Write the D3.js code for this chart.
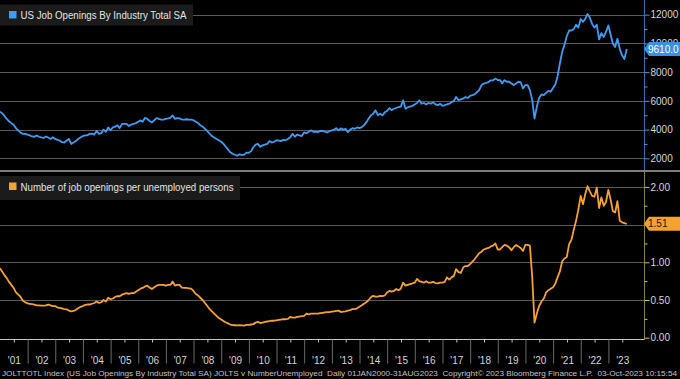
<!DOCTYPE html>
<html><head><meta charset="utf-8">
<script src="https://cdn.jsdelivr.net/npm/d3@7"></script>
<style>
html,body{margin:0;padding:0;background:#000;}
svg{display:block;}
text{font-family:"Liberation Sans",Arial,sans-serif;}
</style></head><body>
<svg id="chart" width="680" height="379"></svg>
<script>
// ---- Data (monthly, Dec 2000 .. Aug 2023) ----
const firstMonth = [2000, 11]; // Dec 2000
const openings = [
 5250,
 5130,4950,4740,4580,4450,4330,4100,3930,3790,3700,3700,3650,
 3590,3520,3500,3590,3500,3450,3420,3520,3450,3350,3470,3350,
 3280,3240,3120,3100,3240,3350,3000,3100,3200,3350,3450,3550,
 3600,3600,3700,3720,3650,3900,3700,3750,4000,3850,4150,3950,
 4150,4200,4300,4100,4400,4400,4400,4250,4350,4400,4450,4550,
 4640,4550,4820,4750,4600,4500,4650,4800,4750,4700,4700,4750,
 4780,4820,4980,4750,4800,4780,4700,4700,4720,4700,4700,4650,
 4550,4450,4300,4200,4050,3900,3720,3550,3450,3350,3260,3150,
 3000,2820,2620,2420,2320,2250,2180,2280,2230,2260,2400,2380,
 2500,2770,2950,3000,2800,2900,2950,3000,3200,3100,3150,3250,
 3240,3200,3280,3250,3350,3470,3700,3500,3650,3600,3550,3800,
 3750,3850,3950,3850,3850,3820,3900,3900,3850,3800,3900,3950,
 4000,4100,3950,4080,4000,4050,3820,4000,4100,4050,4150,4100,
 4170,4290,4500,4750,4990,5100,5340,5000,5100,4990,5200,5300,
 5500,5350,5450,5500,5570,5600,6040,5450,5550,5600,5650,5750,
 5850,6040,5800,5850,5750,5850,5800,5900,5750,5700,5800,5650,
 5700,5750,5800,5900,6000,6270,6050,6100,6150,6270,6200,6350,
 6400,6450,6600,6750,7100,7200,7250,7310,7430,7430,7550,7450,
 7445,7215,7445,7330,7330,7215,7100,7215,7330,7300,6865,7100,
 7100,6750,6050,4770,5600,6200,6450,6400,6550,6700,6650,6900,
 7150,7700,8600,9400,9900,10500,10900,10900,11000,11300,11100,11700,
 11500,11700,12050,11800,11350,11100,11300,10280,10720,10450,10800,11250,
 10600,10000,9750,10320,9620,9170,8920,9610
];
const ratio = [
 0.92,
 0.875,0.83,0.79,0.74,0.70,0.66,0.60,0.57,0.54,0.49,0.47,0.455,
 0.45,0.445,0.44,0.43,0.43,0.425,0.425,0.43,0.44,0.43,0.42,0.42,
 0.40,0.395,0.39,0.38,0.375,0.36,0.35,0.355,0.37,0.39,0.41,0.42,
 0.435,0.44,0.44,0.45,0.46,0.48,0.46,0.47,0.50,0.48,0.53,0.51,
 0.52,0.54,0.55,0.55,0.57,0.58,0.59,0.58,0.59,0.59,0.61,0.63,
 0.65,0.66,0.68,0.69,0.665,0.645,0.67,0.69,0.70,0.70,0.70,0.69,
 0.70,0.70,0.745,0.69,0.70,0.70,0.665,0.66,0.66,0.655,0.65,0.62,
 0.58,0.56,0.53,0.50,0.46,0.42,0.38,0.35,0.32,0.29,0.26,0.24,
 0.22,0.205,0.19,0.175,0.167,0.165,0.163,0.165,0.163,0.16,0.17,0.17,
 0.175,0.18,0.20,0.21,0.195,0.20,0.21,0.215,0.22,0.225,0.225,0.23,
 0.235,0.24,0.245,0.245,0.25,0.275,0.265,0.265,0.275,0.28,0.285,0.29,
 0.32,0.31,0.32,0.32,0.32,0.32,0.325,0.33,0.335,0.34,0.34,0.345,
 0.35,0.355,0.36,0.34,0.345,0.35,0.36,0.365,0.38,0.38,0.39,0.41,
 0.43,0.45,0.47,0.50,0.535,0.555,0.545,0.545,0.555,0.55,0.56,0.60,
 0.62,0.61,0.62,0.645,0.63,0.65,0.73,0.69,0.70,0.71,0.72,0.73,
 0.78,0.75,0.74,0.73,0.75,0.73,0.73,0.74,0.725,0.72,0.73,0.73,
 0.74,0.80,0.77,0.80,0.82,0.91,0.87,0.86,0.93,0.95,0.95,0.975,
 1.01,1.04,1.08,1.12,1.14,1.17,1.18,1.19,1.21,1.22,1.25,1.17,
 1.17,1.20,1.23,1.22,1.20,1.16,1.20,1.23,1.21,1.19,1.15,1.23,
 1.23,1.22,0.80,0.20,0.32,0.42,0.48,0.52,0.60,0.63,0.65,0.67,
 0.72,0.80,0.88,1.01,1.05,1.07,1.24,1.30,1.43,1.55,1.70,1.88,
 1.77,1.90,2.01,1.94,1.88,1.87,1.99,1.72,1.86,1.75,1.80,1.96,
 1.83,1.68,1.66,1.81,1.55,1.53,1.52,1.51
];
const topTicks = [2000,4000,6000,8000,10000,12000];
const topMinor = [3000,5000,7000,9000,11000];
const botTicks = [0,0.5,1,1.5,2];
const botMinor = [0.25,0.75,1.25,1.75];
const yearLabels = ["'01","'02","'03","'04","'05","'06","'07","'08","'09","'10","'11","'12","'13","'14","'15","'16","'17","'18","'19","'20","'21","'22","'23"];
const topLegend = "US Job Openings By Industry Total SA";
const botLegend = "Number of job openings per unemployed persons";
const lastOpen = "9610.0", lastRatio = "1.51";
const footer = "JOLTTOTL Index (US Job Openings By Industry Total SA) JOLTS v NumberUnemployed  Daily 01JAN2000-31AUG2023  Copyright\u00A9 2023 Bloomberg Finance L.P.  03-Oct-2023 10:15:54";

// ---- Layout ----
const svg = d3.select("#chart");
const R = 644;
const BLUE = "#3f9cf5", ORANGE = "#f7a130";
const domainStart = new Date(2001,0,1), domainEnd = new Date(2024,3,15);
const x = d3.scaleTime().domain([domainStart, domainEnd]).range([0, R]);
const yTop = d3.scaleLinear().domain([2000,12000]).range([158.3,14.7]);
const yBot = d3.scaleLinear().domain([0,2]).range([337.7,186.9]);
const dates = openings.map((_,i)=> new Date(firstMonth[0], firstMonth[1] + i + 1, 0));

svg.append("rect").attr("width",680).attr("height",379).attr("fill","#000");

const defs = svg.append("defs");
defs.append("clipPath").attr("id","cTop").append("rect").attr("x",0).attr("y",0).attr("width",R).attr("height",170);
defs.append("clipPath").attr("id","cBot").append("rect").attr("x",0).attr("y",172).attr("width",R).attr("height",167);

// gridlines
svg.append("g").selectAll("line").data(topTicks).join("line")
  .attr("x1",0).attr("x2",R).attr("y1",d=>Math.round(yTop(d))+0.5).attr("y2",d=>Math.round(yTop(d))+0.5)
  .attr("stroke","#5a5a5a").attr("stroke-width",1);
svg.append("g").selectAll("line").data(botTicks.filter(d=>d>0)).join("line")
  .attr("x1",0).attr("x2",R).attr("y1",d=>Math.round(yBot(d))+0.5).attr("y2",d=>Math.round(yBot(d))+0.5)
  .attr("stroke","#5a5a5a").attr("stroke-width",1);

// panel separator
svg.append("rect").attr("x",0).attr("y",170).attr("width",680).attr("height",2).attr("fill","#7c7c7c");

// lines
const lineTop = d3.line().x((d,i)=>x(dates[i])).y(d=>yTop(d));
const lineBot = d3.line().x((d,i)=>x(dates[i])).y(d=>yBot(d));
svg.append("path").datum(openings).attr("clip-path","url(#cTop)").attr("d",lineTop)
  .attr("fill","none").attr("stroke",BLUE).attr("stroke-width",1.8).attr("stroke-linejoin","round");
svg.append("path").datum(ratio).attr("clip-path","url(#cBot)").attr("d",lineBot)
  .attr("fill","none").attr("stroke",ORANGE).attr("stroke-width",1.8).attr("stroke-linejoin","round");

// right axes
svg.append("line").attr("x1",R+0.5).attr("x2",R+0.5).attr("y1",0).attr("y2",170).attr("stroke","#3570b5").attr("stroke-width",1);
svg.append("line").attr("x1",R+0.5).attr("x2",R+0.5).attr("y1",172).attr("y2",340).attr("stroke","#8a8238").attr("stroke-width",1);

function styleAxis(g, col){
  g.select(".domain").remove();
  g.selectAll(".tick line").attr("stroke",col).attr("stroke-width",1);
  g.selectAll(".tick text").attr("fill","#d6d6d6").style("font-size","10px").style("font-family","'Liberation Sans',Arial,sans-serif");
}
const gTop = svg.append("g").attr("transform",`translate(${R+0.5},0)`)
  .call(d3.axisRight(yTop).tickValues(topTicks).tickSize(5).tickPadding(1).tickFormat(d3.format("d")));
styleAxis(gTop, BLUE);
const gTopM = svg.append("g").attr("transform",`translate(${R+0.5},0)`)
  .call(d3.axisRight(yTop).tickValues(topMinor).tickSize(3).tickFormat(""));
styleAxis(gTopM, BLUE);
// the 1.50 label sits fully under the last-value tag in the reference
const gBot = svg.append("g").attr("transform",`translate(${R+0.5},0)`)
  .call(d3.axisRight(yBot).tickValues(botTicks).tickSize(5).tickPadding(1).tickFormat(d=> d===1.5 ? "" : d3.format(".2f")(d)));
styleAxis(gBot, "#e0c040");
const gBotM = svg.append("g").attr("transform",`translate(${R+0.5},0)`)
  .call(d3.axisRight(yBot).tickValues(botMinor).tickSize(3).tickFormat(""));
styleAxis(gBotM, "#e0c040");

// bottom x axis
svg.append("line").attr("x1",0).attr("x2",R).attr("y1",339.5).attr("y2",339.5).attr("stroke","#c8c8c8");
const sepYears = d3.range(2002,2024).map(y=>new Date(y,0,1));
const gSep = svg.append("g").attr("transform","translate(0,339.5)")
  .call(d3.axisBottom(x).tickValues(sepYears).tickSize(24).tickSizeOuter(0).tickFormat(""));
gSep.select(".domain").remove();
gSep.selectAll(".tick line").attr("stroke","#6a6a6a");
const midDates = d3.range(2001,2024).map(y=>{
  const a = new Date(y,0,1), b = new Date(Math.min(+new Date(y+1,0,1), +domainEnd));
  return new Date((+a + +b)/2);
});
const gLab = svg.append("g").attr("transform","translate(0,339.5)")
  .call(d3.axisBottom(x).tickValues(midDates).tickSize(3).tickSizeOuter(0).tickPadding(14)
    .tickFormat((d,i)=>yearLabels[i]));
gLab.select(".domain").remove();
gLab.selectAll(".tick line").attr("stroke","#c8c8c8");
gLab.selectAll(".tick text").attr("fill","#d6d6d6").style("font-size","10px");

// legends
function legend(y0, h, w, col, label, tl){
  const g = svg.append("g");
  g.append("rect").attr("x",0).attr("y",y0).attr("width",w).attr("height",h).attr("fill","#1b1b1b");
  g.append("rect").attr("x",9).attr("y",y0+6.5).attr("width",7.5).attr("height",7.5).attr("fill",col);
  g.append("text").attr("x",20.5).attr("y",y0+14.5).text(label).attr("fill","#e4e4e4")
   .style("font-size","10.5px").attr("textLength",tl).attr("lengthAdjust","spacingAndGlyphs");
}
legend(4.5, 21, 193, BLUE, topLegend, 166);
legend(176, 24, 240, ORANGE, botLegend, 213);

// last value tags
function tag(yv, col, label, txtCol){
  const g = svg.append("g");
  g.append("path").attr("d",`M${R},${yv} L${R+5},${yv-7} L680,${yv-7} L680,${yv+7} L${R+5},${yv+7} Z`).attr("fill",col);
  g.append("text").attr("x",R+4).attr("y",yv+3.6).text(label).attr("fill",txtCol).style("font-size","10px");
}
tag(yTop(openings[openings.length-1]), "#3d8ee6", lastOpen, "#ffffff");
tag(yBot(ratio[ratio.length-1]), ORANGE, lastRatio, "#2a1500");

// footer
svg.append("text").attr("x",2).attr("y",375.5).text(footer).attr("fill","#c4c4c4")
  .style("font-size","7.6px").style("white-space","pre").attr("textLength",675).attr("lengthAdjust","spacingAndGlyphs");
</script>
</body></html>
